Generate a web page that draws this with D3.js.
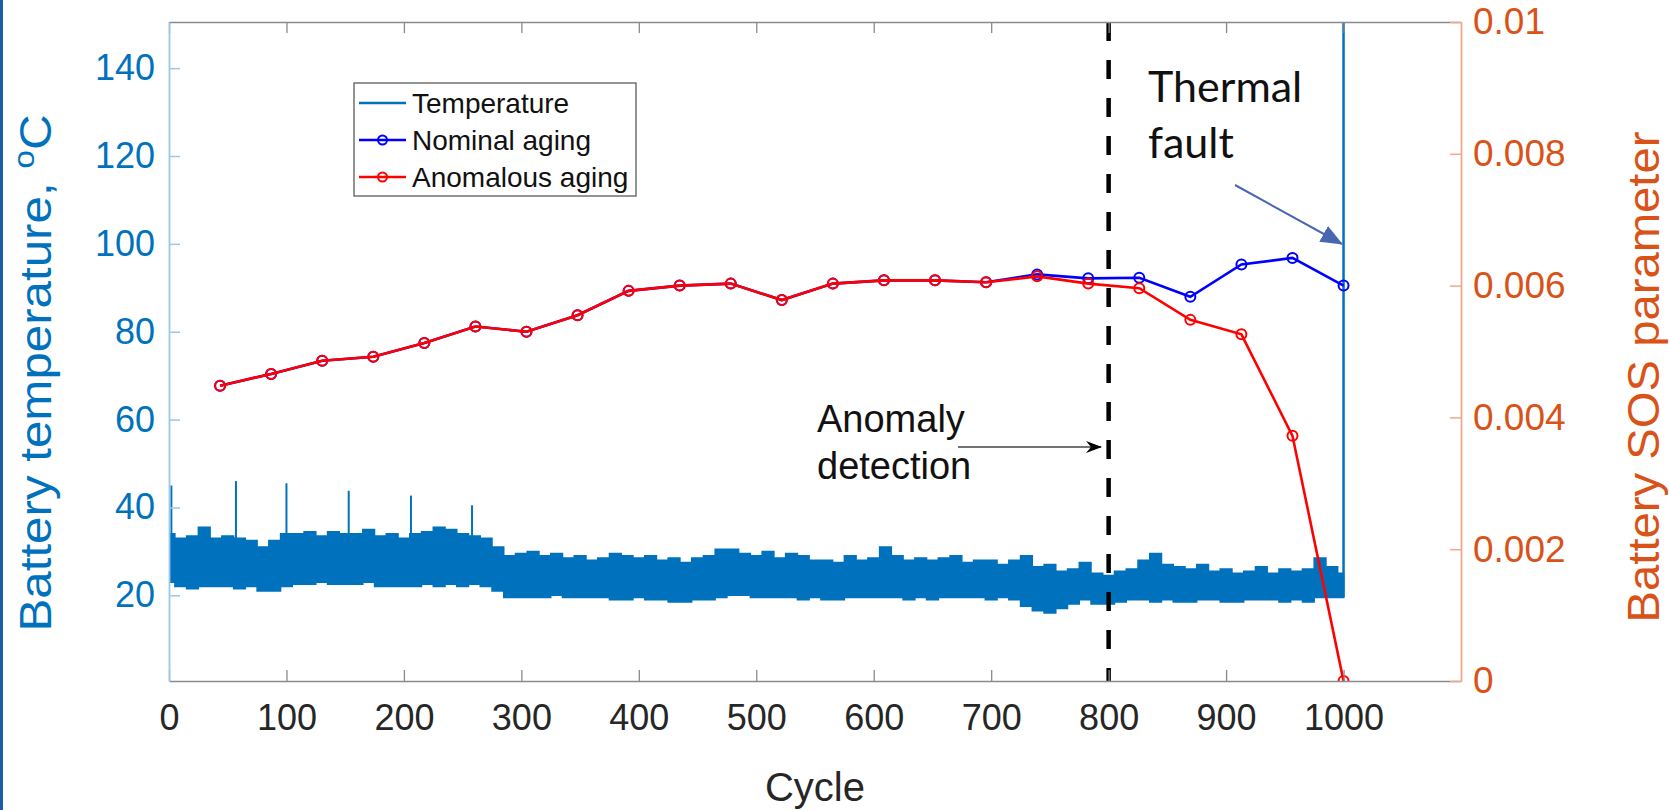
<!DOCTYPE html>
<meta charset="utf-8">
<script src="https://d3js.org/d3.v7.min.js"></script>
<style>
  body { margin: 0; background: #fff; }
  svg { display: block; }
</style>
<div id="my_dataviz"></div>
<script>

    // ---- data ----
    // temperature band, top and bottom edges, every 10 cycles from 0 to 1000
    var tempCycles = d3.range(0, 1001, 10);
    var tempHi = [34, 33, 33.5, 35.5, 33, 33.5, 33, 32.5, 31, 32.5,
        34, 34, 34.5, 33.5, 34.5, 34, 34, 35, 33.5, 34,
        33, 34, 34.5, 35.5, 35, 34, 33.5, 33, 31, 29,
        29.5, 30, 29, 29.5, 28.5, 29, 28, 28.5, 29.5, 29,
        28.5, 29, 28, 28.5, 27.5, 28.5, 29, 30.5, 30.5, 29.5,
        29, 30, 28.5, 29.5, 29, 28, 28, 27.5, 29, 28,
        28.5, 31, 29, 28, 28.5, 28, 28.5, 29, 27.5, 28,
        28, 27, 28, 29, 26.5, 27, 25.5, 26, 27.5, 25,
        24.5, 25.5, 26, 28, 29.5, 27, 26.5, 26, 27, 25.5,
        26, 25, 25.5, 26.5, 25, 26, 25.5, 26, 28.5, 26.5, 25];
    var tempLo = [23, 22, 21.5, 22, 22, 22, 21.5, 22, 21, 21,
        22, 22.5, 22.5, 23, 22.5, 22.5, 22.5, 23, 22, 22,
        22, 22, 22.5, 22, 22.5, 22, 22.5, 22, 21, 19.5,
        19.5, 19.5, 19.5, 20, 19.5, 19.5, 19.5, 19.5, 19, 19,
        19.5, 19, 19, 18.5, 18.5, 19, 19, 19.5, 20, 20,
        19.5, 19.5, 19.5, 19.5, 19, 19.5, 19, 19, 19.5, 19.5,
        19.5, 19.5, 19.5, 19, 19.5, 19, 19.5, 19.5, 19.5, 19.5,
        19, 19.5, 19, 17.5, 16.5, 16, 17, 18, 19, 18,
        18, 18.5, 19, 19, 18.5, 19, 18.5, 18.5, 19, 19,
        18.5, 18.5, 19, 19, 19, 18.5, 19, 18.5, 19.5, 19.5, 19.5];
    // single temperature spikes
    var spikeCycles = [2, 57, 100, 153, 206, 258];
    var spikeTemps = [45, 46, 45.5, 43.8, 42.7, 40.5];
    var faultCycle = 1000;
    var faultTemp = 152;

    // SOS parameter, 23 checkpoints
    var sosCycles = d3.range(1, 24).map(function (k) { return k * 1000 / 23; });
    var nominalSOS = [0.00448, 0.00466, 0.00486, 0.00492, 0.00513, 0.00538, 0.0053, 0.00555,
        0.00592, 0.006, 0.00603, 0.00578, 0.00603, 0.00608, 0.00608, 0.00605,
        0.00617, 0.00611, 0.00612, 0.00583, 0.00632, 0.00642, 0.006];
    var anomalousSOS = [0.00448, 0.00466, 0.00486, 0.00492, 0.00513, 0.00538, 0.0053, 0.00555,
        0.00592, 0.006, 0.00603, 0.00578, 0.00603, 0.00608, 0.00608, 0.00605,
        0.00614, 0.00603, 0.00596, 0.00548, 0.00526, 0.00372, 0];

    // ticks
    var xTicks = [0, 100, 200, 300, 400, 500, 600, 700, 800, 900, 1000];
    var tempTicks = [20, 40, 60, 80, 100, 120, 140];
    var sosTicks = [0, 0.002, 0.004, 0.006, 0.008, 0.01];
    var sosTickLabels = ["0", "0.002", "0.004", "0.006", "0.008", "0.01"];

    var anomalyCycle = 800;

    // ---- layout ----
    var W = 1669, H = 810;
    var L = 169, R = 1461, T = 22, B = 681;
    var blue = "#0072BD", orange = "#D95319", ink = "#262626";
    var font = "'Liberation Sans', Arial, sans-serif";

    var svg = d3.select("#my_dataviz")
        .append("svg")
        .attr("width", W)
        .attr("height", H);

    svg.append("rect").attr("width", W).attr("height", H).attr("fill", "#fff");
    // slide border on the left
    svg.append("rect").attr("x", 0).attr("y", 0).attr("width", 3).attr("height", H).attr("fill", "#1f5bab");

    var x = d3.scaleLinear().domain([0, 1100]).range([L, R]);
    var yT = d3.scaleLinear().domain([0.5, 150.5]).range([B, T]);
    var yS = d3.scaleLinear().domain([0, 0.01]).range([B, T]);

    svg.append("defs").append("clipPath").attr("id", "plotclip")
        .append("rect").attr("x", L).attr("y", T).attr("width", R - L).attr("height", B - T);

    var plot = svg.append("g").attr("clip-path", "url(#plotclip)");

    // temperature band
    var band = tempCycles.map(function (c, i) { return { c: c, hi: tempHi[i], lo: tempLo[i] }; });
    plot.append("path")
        .datum(band)
        .attr("fill", blue)
        .attr("stroke", blue)
        .attr("stroke-width", 1.5)
        .attr("d", d3.area()
            .curve(d3.curveStep)
            .x(function (d) { return x(d.c); })
            .y0(function (d) { return yT(d.lo); })
            .y1(function (d) { return yT(d.hi); }));

    // spikes
    plot.selectAll(".spike")
        .data(spikeCycles)
        .enter().append("line")
        .attr("x1", function (d) { return x(d); })
        .attr("x2", function (d) { return x(d); })
        .attr("y1", function (d, i) { return yT(28); })
        .attr("y2", function (d, i) { return yT(spikeTemps[i]); })
        .attr("stroke", blue)
        .attr("stroke-width", 2);

    // thermal fault spike
    plot.append("line")
        .attr("x1", x(faultCycle)).attr("x2", x(faultCycle))
        .attr("y1", yT(tempLo[tempLo.length - 1])).attr("y2", yT(faultTemp))
        .attr("stroke", blue).attr("stroke-width", 2.5);

    // anomaly detection line
    plot.append("line")
        .attr("x1", x(anomalyCycle)).attr("x2", x(anomalyCycle))
        .attr("y1", T).attr("y2", B)
        .attr("stroke", "#000").attr("stroke-width", 4.5)
        .attr("stroke-dasharray", "19,19");

    // SOS lines
    function sosSeries(vals, color) {
        var pts = sosCycles.map(function (c, i) { return [c, vals[i]]; });
        plot.append("path")
            .datum(pts)
            .attr("fill", "none")
            .attr("stroke", color)
            .attr("stroke-width", 2.6)
            .attr("d", d3.line()
                .x(function (d) { return x(d[0]); })
                .y(function (d) { return yS(d[1]); }));
        plot.selectAll(null)
            .data(pts)
            .enter().append("circle")
            .attr("cx", function (d) { return x(d[0]); })
            .attr("cy", function (d) { return yS(d[1]); })
            .attr("r", 5)
            .attr("fill", "none")
            .attr("stroke", color)
            .attr("stroke-width", 2);
    }
    sosSeries(nominalSOS, "#0000FF");
    sosSeries(anomalousSOS, "#FF0000");

    // ---- axes ----
    var gx = svg.append("g")
        .attr("transform", "translate(0," + B + ")")
        .call(d3.axisBottom(x).tickValues(xTicks).tickSizeInner(-11).tickSizeOuter(0).tickPadding(23)
            .tickFormat(d3.format("d")));
    gx.select(".domain").attr("stroke", "#8a8a8a").attr("stroke-width", 1.5);
    gx.selectAll(".tick line").attr("stroke", "#8a8a8a").attr("stroke-width", 1.3);
    gx.selectAll("text").attr("fill", ink).style("font", "36px " + font);

    var gtop = svg.append("g")
        .attr("transform", "translate(0," + T + ")")
        .call(d3.axisTop(x).tickValues(xTicks).tickSizeInner(-11).tickSizeOuter(0).tickFormat(""));
    gtop.select(".domain").attr("stroke", "#8a8a8a").attr("stroke-width", 1.5);
    gtop.selectAll(".tick line").attr("stroke", "#8a8a8a").attr("stroke-width", 1.3);

    var gl = svg.append("g")
        .attr("transform", "translate(" + L + ",0)")
        .call(d3.axisLeft(yT).tickValues(tempTicks).tickSizeInner(-11).tickSizeOuter(0).tickPadding(14));
    gl.select(".domain").attr("stroke", "#9cc7e8").attr("stroke-width", 1.8);
    gl.selectAll(".tick line").attr("stroke", "#9cc7e8").attr("stroke-width", 1.5);
    gl.selectAll("text").attr("fill", blue).style("font", "36px " + font);

    var gr = svg.append("g")
        .attr("transform", "translate(" + R + ",0)")
        .call(d3.axisRight(yS).tickValues(sosTicks).tickSizeInner(-11).tickSizeOuter(0).tickPadding(12)
            .tickFormat(function (d, i) { return sosTickLabels[i]; }));
    gr.select(".domain").attr("stroke", "#f2a98a").attr("stroke-width", 1.8);
    gr.selectAll(".tick line").attr("stroke", "#f2a98a").attr("stroke-width", 1.5);
    gr.selectAll("text").attr("fill", orange).style("font", "37px " + font);

    // axis titles
    svg.append("text")
        .attr("x", (L + R) / 2)
        .attr("y", 801)
        .attr("text-anchor", "middle")
        .attr("fill", ink)
        .style("font", "40px " + font)
        .text("Cycle");

    var lt = svg.append("text")
        .attr("transform", "translate(51,373) rotate(-90) scale(1.12,1)")
        .attr("text-anchor", "middle")
        .attr("fill", blue)
        .style("font", "44px " + font);
    lt.append("tspan").text("Battery temperature, ");
    lt.append("tspan").attr("dy", -17).style("font-size", "30px").text("o");
    lt.append("tspan").attr("dy", 17).text("C");

    svg.append("text")
        .attr("transform", "translate(1659,377) rotate(-90) scale(1.05,1)")
        .attr("text-anchor", "middle")
        .attr("fill", orange)
        .style("font", "45px " + font)
        .text("Battery SOS parameter");

    // ---- legend ----
    var leg = svg.append("g");
    leg.append("rect")
        .attr("x", 354).attr("y", 83).attr("width", 282).attr("height", 113)
        .attr("fill", "#fff").attr("stroke", "#707070").attr("stroke-width", 1.5);
    var legItems = [
        { label: "Temperature", color: blue, marker: false },
        { label: "Nominal aging", color: "#0000FF", marker: true },
        { label: "Anomalous aging", color: "#FF0000", marker: true }
    ];
    legItems.forEach(function (d, i) {
        var yy = 103 + i * 37;
        leg.append("line").attr("x1", 359).attr("x2", 406).attr("y1", yy).attr("y2", yy)
            .attr("stroke", d.color).attr("stroke-width", 2.5);
        if (d.marker) {
            leg.append("circle").attr("cx", 382.5).attr("cy", yy).attr("r", 4.5)
                .attr("fill", "none").attr("stroke", d.color).attr("stroke-width", 2);
        }
        leg.append("text").attr("x", 412).attr("y", yy + 10)
            .attr("fill", "#111").style("font", "28px " + font).text(d.label);
    });

    // ---- annotations ----
    var defs = svg.select("defs");
    defs.append("marker").attr("id", "blackhead")
        .attr("viewBox", "0 0 16 12").attr("refX", 15).attr("refY", 6)
        .attr("markerWidth", 16).attr("markerHeight", 12).attr("markerUnits", "userSpaceOnUse")
        .attr("orient", "auto")
        .append("path").attr("d", "M0,0 L16,6 L0,12 L5,6 Z").attr("fill", "#000");
    defs.append("marker").attr("id", "bluehead")
        .attr("viewBox", "0 0 22 18").attr("refX", 21).attr("refY", 9)
        .attr("markerWidth", 22).attr("markerHeight", 18).attr("markerUnits", "userSpaceOnUse")
        .attr("orient", "auto")
        .append("path").attr("d", "M0,0 L22,9 L0,18 Z").attr("fill", "#4767b1");

    var at = svg.append("text").attr("fill", "#111").style("font", "38px " + font);
    at.append("tspan").attr("x", 817).attr("y", 432).text("Anomaly");
    at.append("tspan").attr("x", 817).attr("y", 479).text("detection");
    svg.append("line")
        .attr("x1", 958).attr("y1", 447).attr("x2", 1101).attr("y2", 447)
        .attr("stroke", "#444").attr("stroke-width", 1.3)
        .attr("marker-end", "url(#blackhead)");

    var tt = svg.append("text").attr("fill", "#111").style("font", "43px Lato, 'Open Sans', sans-serif");
    tt.append("tspan").attr("x", 1148).attr("y", 102).text("Thermal");
    tt.append("tspan").attr("x", 1148).attr("y", 158).text("fault");
    svg.append("line")
        .attr("x1", 1235).attr("y1", 185).attr("x2", 1342).attr("y2", 244)
        .attr("stroke", "#4767b1").attr("stroke-width", 2)
        .attr("marker-end", "url(#bluehead)");
</script>
